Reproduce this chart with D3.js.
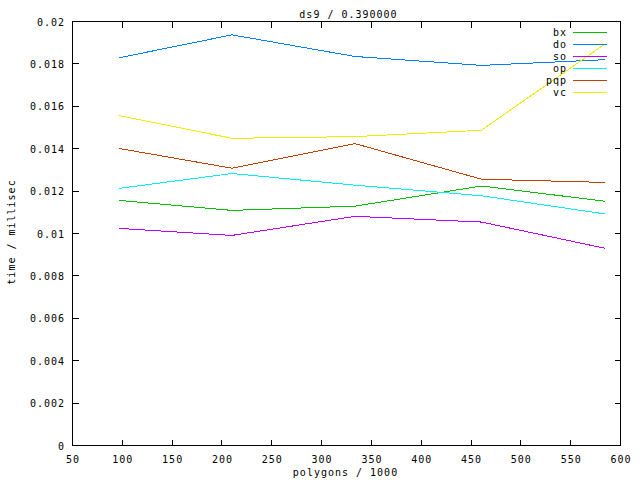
<!DOCTYPE html>
<html><head><meta charset="utf-8">
<script src="https://cdn.jsdelivr.net/npm/d3@7"></script>
<style>
body{margin:0;background:#fff;}
text{font-family:"DejaVu Sans Mono",monospace;font-size:10px;letter-spacing:1px;fill:#000;}
</style></head>
<body><svg id="c" width="640" height="480"></svg>
<script>
const xValues = [97, 210, 333.5, 460.5, 584.7];
const seriesNames = ["bx", "do", "so", "op", "pqp", "vc"];
const bx  = [0.01156, 0.01109, 0.01129, 0.01224, 0.01152];
const doS = [0.01829, 0.01937, 0.01835, 0.01793, 0.01820];
const so  = [0.01024, 0.00991, 0.01081, 0.01054, 0.00930];
const op  = [0.01213, 0.01283, 0.01228, 0.01178, 0.01092];
const pqp = [0.01401, 0.01308, 0.01424, 0.01256, 0.01241];
const vc  = [0.01556, 0.01449, 0.01457, 0.01487, 0.01895];
const seriesColors = ["#00c000", "#0080ff", "#c000ff", "#00eeee", "#c04000", "#eeee00"];
const xTicks = [50,100,150,200,250,300,350,400,450,500,550,600];
const yTicks = [0,0.002,0.004,0.006,0.008,0.01,0.012,0.014,0.016,0.018,0.02];
const yTickLabels = ["0","0.002","0.004","0.006","0.008","0.01","0.012","0.014","0.016","0.018","0.02"];
const title = "ds9 / 0.390000";
const xTitle = "polygons / 1000";
const yTitle = "time / millisec";

const series = [bx, doS, so, op, pqp, vc];
const L = 72.5, R = 620.5, T = 21.5, B = 445.5;
const svg = d3.select("#c");
const x = d3.scaleLinear().domain([50, 600]).range([L, R]);
const y = d3.scaleLinear().domain([0, 0.02]).range([B, T]);
const g = svg.append("g").attr("shape-rendering", "crispEdges");

const tl = 6;
xTicks.forEach(t => {
  const px = Math.round(x(t) - 0.5) + 0.5;
  g.append("line").attr("x1", px).attr("x2", px).attr("y1", B).attr("y2", B - tl).attr("stroke", "#000");
  g.append("line").attr("x1", px).attr("x2", px).attr("y1", T).attr("y2", T + tl).attr("stroke", "#000");
  svg.append("text").attr("x", x(t) + 0.5).attr("y", 463).attr("text-anchor", "middle").text(t);
});
yTicks.forEach((t, i) => {
  const py = Math.round(y(t) - 0.5) + 0.5;
  g.append("line").attr("x1", L).attr("x2", L + tl).attr("y1", py).attr("y2", py).attr("stroke", "#000");
  g.append("line").attr("x1", R).attr("x2", R - tl).attr("y1", py).attr("y2", py).attr("stroke", "#000");
  svg.append("text").attr("x", 65).attr("y", y(t) + 4).attr("text-anchor", "end").text(yTickLabels[i]);
});

const line = d3.line().x((d, i) => x(xValues[i])).y(d => y(d));
series.forEach((s, k) => {
  g.append("path").datum(s).attr("d", line).attr("fill", "none")
    .attr("stroke", seriesColors[k]).attr("stroke-width", 1);
});

g.append("rect").attr("x", L).attr("y", T).attr("width", R - L).attr("height", B - T)
  .attr("fill", "none").attr("stroke", "#000");

seriesNames.forEach((n, k) => {
  const ly = 32.5 + 12 * k;
  svg.append("text").attr("x", 567).attr("y", ly + 3.5).attr("text-anchor", "end").text(n);
  g.append("line").attr("x1", 573).attr("x2", 607).attr("y1", ly).attr("y2", ly)
    .attr("stroke", seriesColors[k]);
});

svg.append("text").attr("x", 348.5).attr("y", 18).attr("text-anchor", "middle").text(title);
svg.append("text").attr("x", 345.5).attr("y", 476).attr("text-anchor", "middle").text(xTitle);
svg.append("text").attr("transform", "translate(15,232) rotate(-90)").attr("text-anchor", "middle").text(yTitle);
</script></body></html>
